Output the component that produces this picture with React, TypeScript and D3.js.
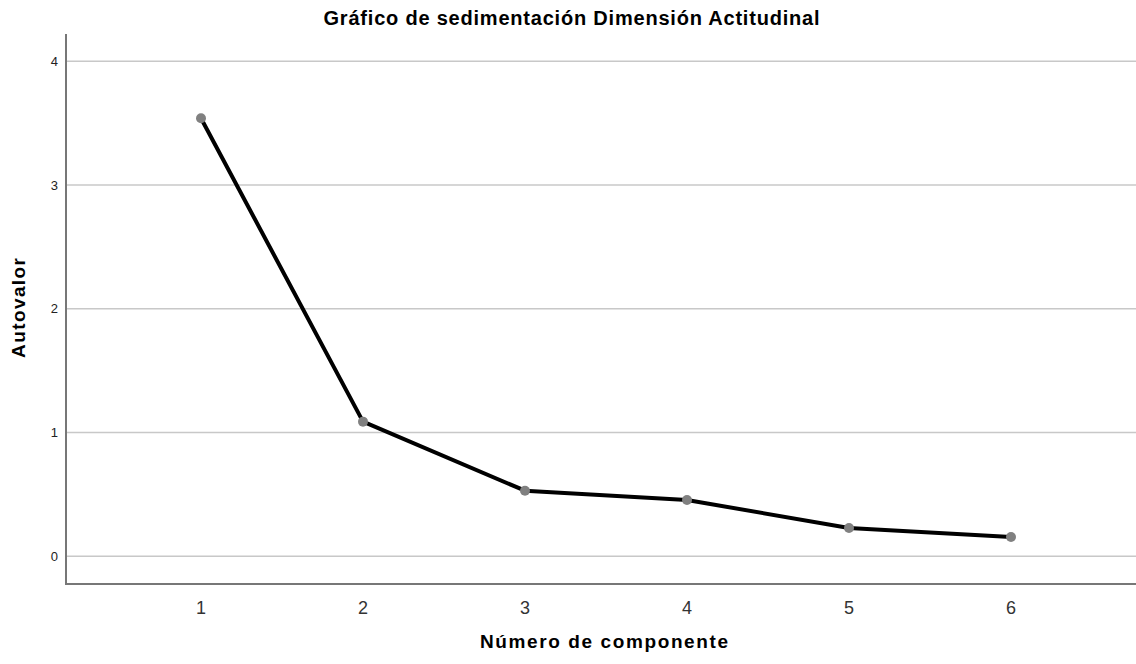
import React from "react";
import * as d3 from "d3";

const components = [1, 2, 3, 4, 5, 6];
const eigenvalues = [3.54, 1.088, 0.53, 0.455, 0.229, 0.156];
const yTicks = [0, 1, 2, 3, 4];

const W = 1136;
const H = 664;

export default function App() {
  const x = d3.scaleLinear().domain([1, 6]).range([201, 1011]);
  const y = d3.scaleLinear().domain([0, 4]).range([556.3, 61.3]);
  const left = 66;
  const right = 1136;
  const top = 34;
  const bottom = 584;
  const line = d3
    .line<number>()
    .x((_, i) => x(components[i]))
    .y((d) => y(d));

  return (
    <svg
      width={W}
      height={H}
      style={{ position: "absolute", left: 0, top: 0, background: "#fff" }}
      fontFamily="'Liberation Sans', Arial, sans-serif"
    >
      <rect x={0} y={0} width={W} height={H} fill="#fff" />
      <text
        x={571.5}
        y={25}
        textAnchor="middle"
        fontSize={20}
        fontWeight="bold"
        fill="#000"
        textLength={496}
        lengthAdjust="spacing"
      >
        Gráfico de sedimentación Dimensión Actitudinal
      </text>
      {yTicks.map((t) => (
        <g key={t}>
          <line x1={left} x2={right} y1={y(t)} y2={y(t)} stroke="#c8c8c8" strokeWidth={1.5} />
          <text x={58} y={y(t) + 4.5} textAnchor="end" fontSize={13} fill="#222">
            {t}
          </text>
        </g>
      ))}
      <line x1={left} x2={left} y1={top} y2={bottom} stroke="#777" strokeWidth={2} />
      <line x1={left - 1} x2={right} y1={bottom} y2={bottom} stroke="#777" strokeWidth={2} />
      {components.map((c) => (
        <text key={c} x={x(c)} y={614} textAnchor="middle" fontSize={18} fill="#333">
          {c}
        </text>
      ))}
      <text
        x={604}
        y={648}
        textAnchor="middle"
        fontSize={19}
        fontWeight="bold"
        fill="#000"
        textLength={248}
        lengthAdjust="spacing"
      >
        Número de componente
      </text>
      <text
        transform={`translate(25,308) rotate(-90)`}
        textAnchor="middle"
        fontSize={19}
        fontWeight="bold"
        fill="#000"
        textLength={100}
        lengthAdjust="spacing"
      >
        Autovalor
      </text>
      <path d={line(eigenvalues) || ""} fill="none" stroke="#000" strokeWidth={4} strokeLinejoin="round" />
      {eigenvalues.map((v, i) => (
        <circle key={i} cx={x(components[i])} cy={y(v)} r={5} fill="#808080" />
      ))}
    </svg>
  );
}
